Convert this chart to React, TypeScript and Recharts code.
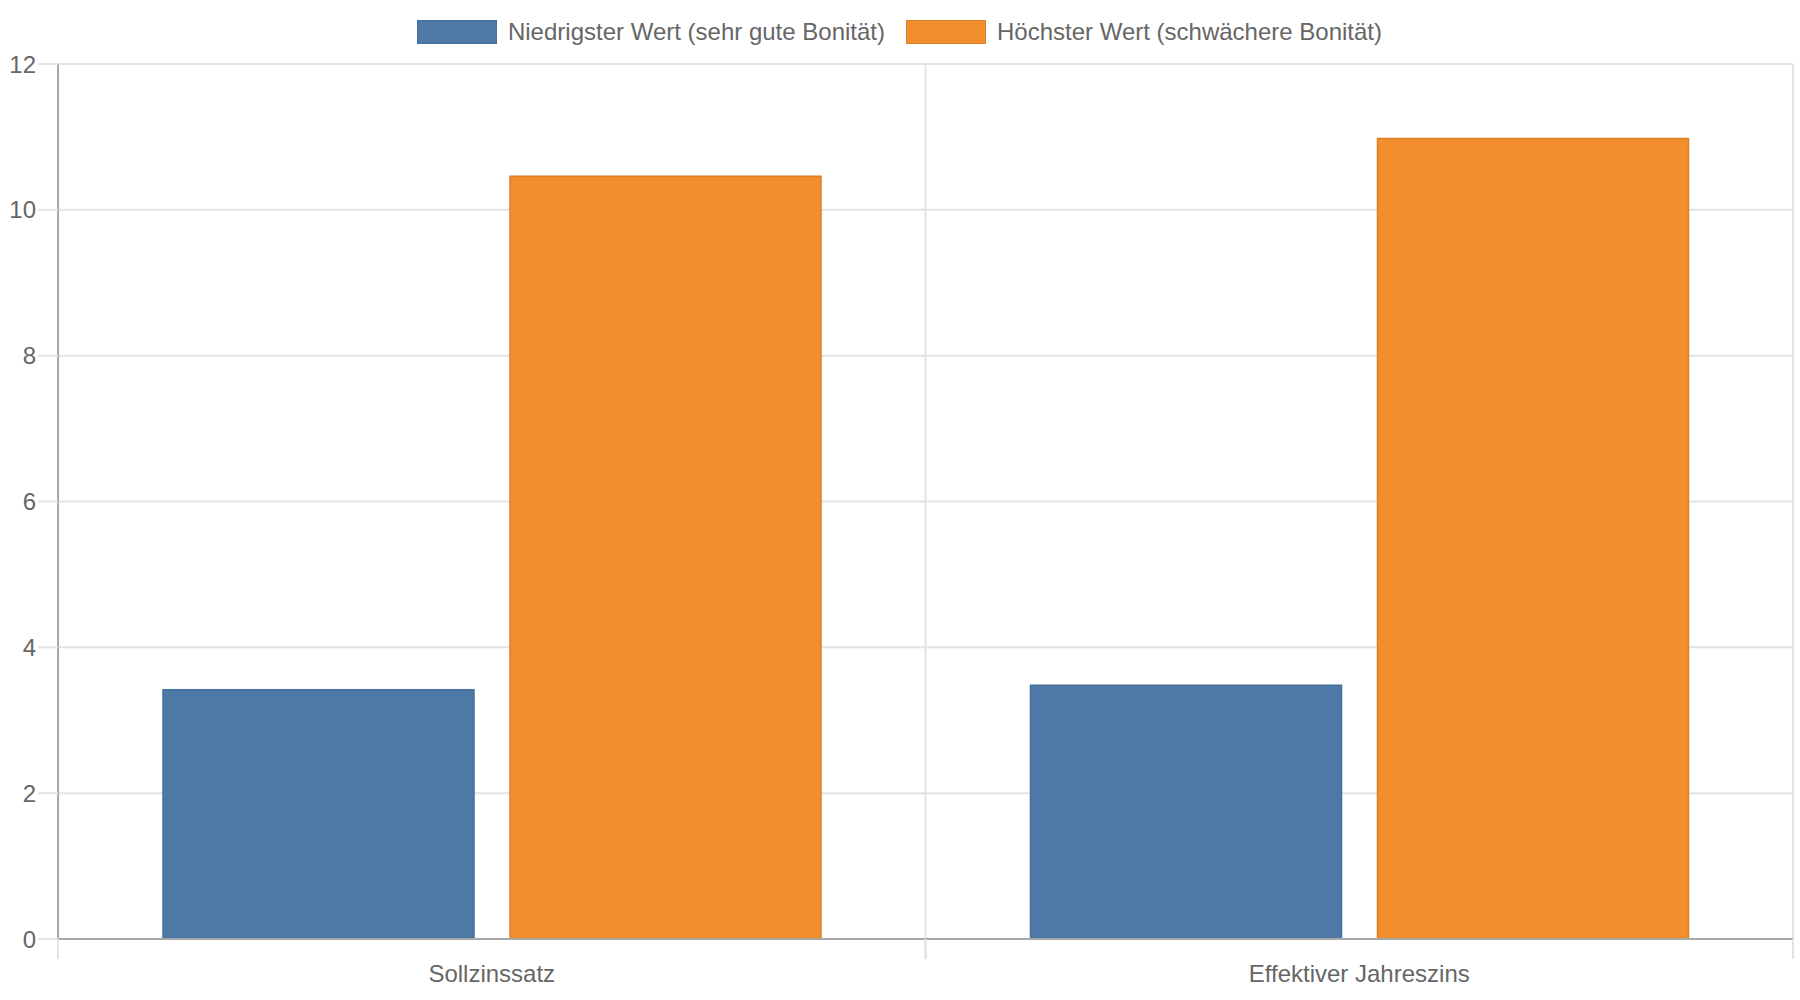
import React from "react";
import { BarChart, Bar, XAxis, YAxis, CartesianGrid, Legend } from "recharts";

// Kreditzinsen: Spanne je nach Bonität (in %)
const CATEGORIES = ["Sollzinssatz", "Effektiver Jahreszins"];
const LOW_VALUES = [3.42, 3.48];
const HIGH_VALUES = [10.46, 10.98];
const Y_TICKS = [0, 2, 4, 6, 8, 10, 12];

const SERIES = [
  { key: "low", name: "Niedrigster Wert (sehr gute Bonität)", fill: "#4e79a7", stroke: "#44709d" },
  { key: "high", name: "Höchster Wert (schwächere Bonität)", fill: "#f28e2b", stroke: "#dc7f28" },
];

const DATA = CATEGORIES.map((c, i) => ({ name: c, low: LOW_VALUES[i], high: HIGH_VALUES[i] }));

const FONT = "'Liberation Sans', Arial, sans-serif";
const TEXT = "#666666";
const GRID = "#e3e3e3";
const AXIS = "#a8a8a8";

// vertical grid lines sit on category boundaries, not centres
function boundaryLines({ xAxis }: any) {
  try {
    const scale = xAxis?.scale;
    if (!scale || typeof scale.bandwidth !== "function") return [];
    const toPx = typeof scale === "function" ? scale : (v: string) => scale.map(v);
    const bw = scale.bandwidth();
    const xs = CATEGORIES.map((c) => toPx(c) as number);
    return [...xs, xs[xs.length - 1] + bw];
  } catch (e) {
    return [];
  }
}

function CategoryTick(props: any) {
  const { x, y, payload } = props;
  const half = payload?.offset ?? 0;
  return (
    <g>
      <line x1={x - half} x2={x - half} y1={y - 20} y2={y} stroke={GRID} strokeWidth={2} />
      <line x1={x + half} x2={x + half} y1={y - 20} y2={y} stroke={GRID} strokeWidth={2} />
      <text x={x} y={y + 23} textAnchor="middle" fill={TEXT} fontSize={24} fontFamily={FONT}>
        {payload.value}
      </text>
    </g>
  );
}

function LegendContent() {
  return (
    <div
      style={{
        height: 64,
        display: "flex",
        justifyContent: "center",
        alignItems: "flex-start",
        paddingTop: 20,
        paddingLeft: 6,
        boxSizing: "border-box",
        fontFamily: FONT,
        fontSize: 24,
        color: TEXT,
      }}
    >
      {SERIES.map((s, i) => (
        <div key={s.key} style={{ display: "flex", alignItems: "center", marginLeft: i ? 21 : 0 }}>
          <span
            style={{
              width: 80,
              height: 24,
              background: s.fill,
              border: `1px solid ${s.stroke}`,
              boxSizing: "border-box",
              marginRight: 11,
            }}
          />
          <span style={{ lineHeight: "24px" }}>{s.name}</span>
        </div>
      ))}
    </div>
  );
}

export default function App() {
  return (
    <div style={{ position: "absolute", left: 0, top: 0, background: "#fff" }}>
      <BarChart
        width={1800}
        height={1000}
        data={DATA}
        margin={{ top: 0, right: 7, bottom: 0, left: 0 }}
        barGap={36}
        barCategoryGap={105}
      >
        <Legend verticalAlign="top" align="center" content={<LegendContent />} />
        <CartesianGrid
          stroke={GRID}
          strokeWidth={2}
          verticalCoordinatesGenerator={boundaryLines}
        />
        <XAxis
          dataKey="name"
          height={61}
          tickSize={20}
          tickMargin={0}
          tickLine={false}
          axisLine={{ stroke: AXIS, strokeWidth: 2 }}
          tick={<CategoryTick />}
          interval={0}
        />
        <YAxis
          width={58}
          domain={[0, 12]}
          ticks={Y_TICKS}
          interval={0}
          tickSize={20}
          tickMargin={2}
          tickLine={{ stroke: GRID, strokeWidth: 2 }}
          axisLine={{ stroke: AXIS, strokeWidth: 2 }}
          tick={{ fill: TEXT, fontSize: 24, fontFamily: FONT }}
        />
        {SERIES.map((s) => (
          <Bar
            key={s.key}
            dataKey={s.key}
            name={s.name}
            fill={s.fill}
            stroke={s.stroke}
            strokeWidth={1.5}
            isAnimationActive={false}
          />
        ))}
      </BarChart>
    </div>
  );
}
